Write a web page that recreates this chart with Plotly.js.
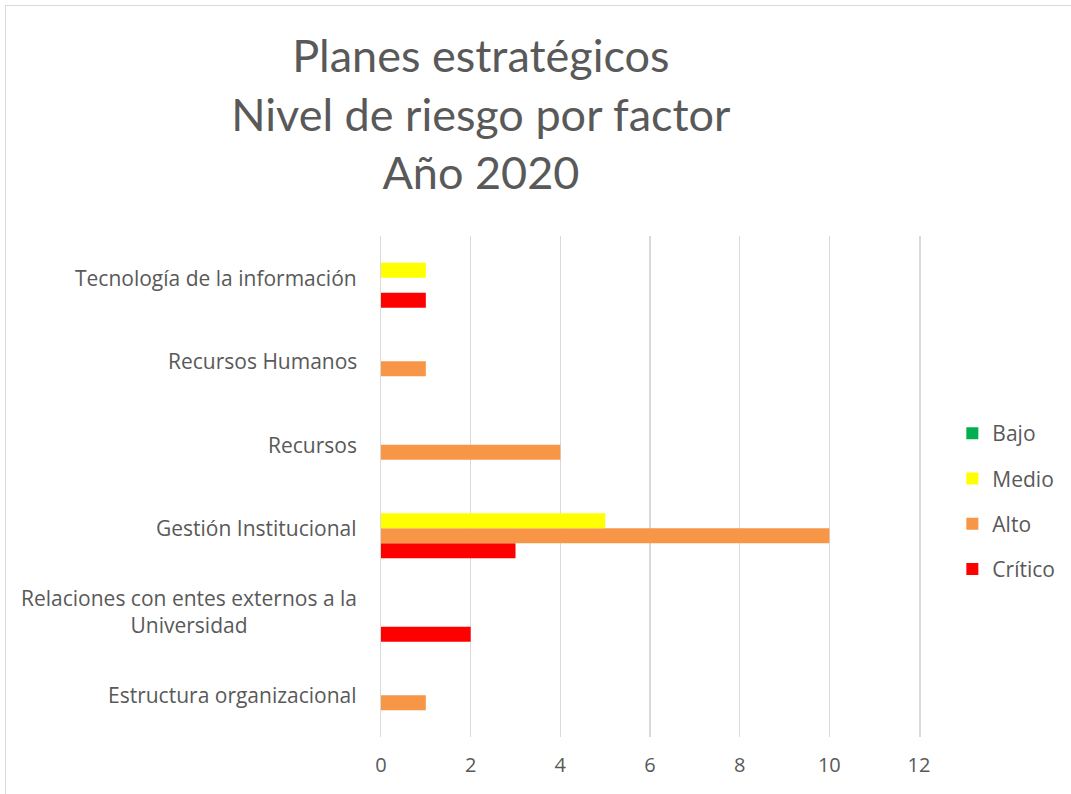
<!DOCTYPE html>
<html>
<head>
<meta charset="utf-8">
<script src="https://cdn.plot.ly/plotly-3.0.1.min.js"></script>
<style>
  html, body { margin: 0; padding: 0; background: #ffffff; overflow: hidden; }
  #frame { position: absolute; left: 5px; top: 5px; width: 1100px; height: 830px; border: 1.5px solid #d9d9d9; }
  #chart { position: absolute; left: 0; top: 0; width: 1071px; height: 794px; }
</style>
</head>
<body>
<div id="frame"></div>
<div id="chart"></div>
<script>
// Categories, bottom to top
const categories = ['Estructura organizacional', 'Relaciones con entes externos a la Universidad', 'Gestión Institucional', 'Recursos', 'Recursos Humanos', 'Tecnología de la información'];
const categoryLabels = ['Estructura organizacional', 'Relaciones con entes externos a la<br>Universidad', 'Gestión Institucional', 'Recursos', 'Recursos Humanos', 'Tecnología de la información'];

const bajo    = [0, 0, 0, 0, 0, 0];
const medio   = [0, 0, 5, 0, 0, 1];
const alto    = [1, 0, 10, 4, 1, 0];
const critico = [0, 2, 3, 0, 0, 1];

const xTicks = [0, 2, 4, 6, 8, 10, 12];

const FONT = '"Open Sans", Lato, sans-serif';
const TITLE_FONT = 'Lato, "Open Sans", sans-serif';
const GREY = '#595959';
const GRID = '#d9d9d9';

function bar(name, values, color, rank) {
  return {
    type: 'bar', orientation: 'h', name: name, legendgroup: name, legendrank: rank,
    y: categories, x: values,
    marker: { color: color, line: { width: 0 } },
    hoverinfo: 'x+name'
  };
}

const data = [
  bar('Crítico', critico, '#ff0000', 4),
  bar('Alto', alto, '#f79646', 3),
  bar('Medio', medio, '#ffff00', 2),
  bar('Bajo', bajo, '#00b050', 1)
];

const annotations = categories.map((c, i) => ({
  xref: 'paper', yref: 'y', x: 0, y: c, xanchor: 'right', yanchor: 'middle',
  xshift: -22, text: categoryLabels[i], showarrow: false, align: 'center',
  font: { family: FONT, size: 21, color: GREY }
}));

const layout = {
  width: 1071, height: 794,
  paper_bgcolor: 'rgba(0,0,0,0)', plot_bgcolor: 'rgba(0,0,0,0)',
  margin: { l: 381, r: 151, t: 236, b: 57, pad: 0 },
  font: { family: FONT, color: GREY },
  title: {
    text: 'Planes estratégicos<br>Nivel de riesgo por factor<br>Año 2020',
    xref: 'container', yref: 'container', x: 0.449, xanchor: 'center',
    y: 1 - 72 / 794, yanchor: 'top',
    font: { family: TITLE_FONT, size: 45, color: GREY }
  },
  barmode: 'group', bargap: 0.28, bargroupgap: 0,
  xaxis: {
    range: [0, 12], tickvals: xTicks, ticktext: xTicks.map(String),
    showgrid: true, gridcolor: GRID, gridwidth: 1.5,
    zeroline: false, showline: false, ticks: '',
    tickfont: { family: FONT, size: 20, color: GREY },
    ticklabelstandoff: 14, fixedrange: true
  },
  yaxis: {
    type: 'category', categoryorder: 'array', categoryarray: categories,
    showticklabels: false, showgrid: false, zeroline: false,
    showline: true, mirror: true, linecolor: GRID, linewidth: 1.5,
    ticks: '', fixedrange: true
  },
  legend: {
    traceorder: 'grouped', tracegroupgap: 15,
    x: 1.06, xanchor: 'left', y: 0.47, yanchor: 'middle',
    font: { family: FONT, size: 21, color: GREY },
    bgcolor: 'rgba(0,0,0,0)', itemclick: false, itemdoubleclick: false
  },
  annotations: annotations,
  showlegend: true
};

Plotly.newPlot('chart', data, layout, { displayModeBar: false, staticPlot: true });
</script>
</body>
</html>
